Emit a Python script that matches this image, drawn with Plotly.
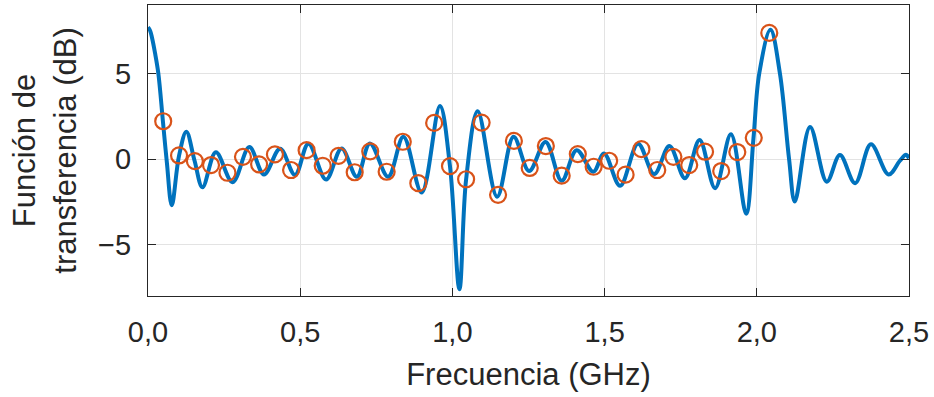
import plotly.graph_objects as go

freq_ghz = [0.000, 0.007, 0.013, 0.023, 0.034, 0.049, 0.062, 0.078, 0.102, 0.126,
            0.153, 0.179, 0.223, 0.278, 0.333, 0.381, 0.434, 0.483, 0.527, 0.585,
            0.636, 0.686, 0.729, 0.789, 0.839, 0.899, 0.959, 0.992, 1.023, 1.045,
            1.083, 1.147, 1.201, 1.252, 1.306, 1.359, 1.408, 1.463, 1.498, 1.551,
            1.610, 1.663, 1.713, 1.764, 1.812, 1.863, 1.915, 1.965, 1.989, 2.008,
            2.045, 2.076, 2.106, 2.125, 2.175, 2.230, 2.273, 2.323, 2.375, 2.433,
            2.470, 2.490, 2.500]
h_db = [7.7, 7.5, 7.1, 6.2, 5.0, 2.2, -0.2, -2.7, 0.2, 1.59,
        -0.1, -1.65, 0.4, -1.35, 0.7, -0.9, 0.6, -0.93, 0.9, -1.2,
        0.62, -1.03, 0.91, -1.03, 1.3, -1.96, 3.1, -0.4, -7.6, -1.2,
        2.8, -2.2, 1.3, -0.7, 1.0, -1.27, 0.52, -0.74, 0.33, -1.56,
        0.9, -0.88, 0.76, -1.12, 1.12, -1.7, 1.45, -3.2, 1.2, 5.0,
        7.55, 5.0, 0.0, -2.48, 1.88, -1.32, 0.23, -1.41, 0.86, -0.9,
        -0.1, 0.25, 0.05]

# Sampled points (orange circles)
sample_ghz = [0.050, 0.102, 0.154, 0.207, 0.261, 0.312, 0.365, 0.417, 0.470, 0.521,
              0.574, 0.626, 0.679, 0.730, 0.784, 0.837, 0.888, 0.940, 0.992, 1.045,
              1.096, 1.150, 1.202, 1.254, 1.307, 1.359, 1.412, 1.464, 1.515, 1.569,
              1.621, 1.673, 1.726, 1.778, 1.830, 1.883, 1.936, 1.990, 2.041]
sample_db = [2.21, 0.21, -0.12, -0.35, -0.80, 0.13, -0.31, 0.27, -0.64, 0.52,
             -0.39, 0.19, -0.77, 0.45, -0.74, 1.01, -1.41, 2.11, -0.41, -1.18,
             2.13, -2.09, 1.06, -0.52, 0.76, -0.97, 0.29, -0.45, -0.10, -0.91,
             0.58, -0.64, 0.13, -0.35, 0.43, -0.70, 0.41, 1.24, 7.37]

x_tickvals = [0, 0.5, 1.0, 1.5, 2.0, 2.5]
x_ticktext = ["0,0", "0,5", "1,0", "1,5", "2,0", "2,5"]
y_tickvals = [-5, 0, 5]
y_ticktext = ["\u22125", "0", "5"]

TXT = "#262626"
FONT = "Liberation Sans, Arial, Helvetica, sans-serif"

fig = go.Figure()
fig.add_trace(go.Scatter(
    x=freq_ghz, y=h_db, mode="lines",
    line=dict(color="#0072BD", width=4, shape="spline", smoothing=1.0),
    showlegend=False, hoverinfo="skip"))
fig.add_trace(go.Scatter(
    x=sample_ghz, y=sample_db, mode="markers",
    marker=dict(symbol="circle-open", size=16, color="#D95319",
                line=dict(color="#D95319", width=2.2)),
    showlegend=False, hoverinfo="skip"))

axis_common = dict(
    showline=True, linecolor=TXT, linewidth=1.3, mirror="ticks",
    ticks="inside", ticklen=8, tickcolor=TXT, tickwidth=1.3,
    showgrid=True, gridcolor="#e3e3e3", gridwidth=1, zeroline=False,
    tickfont=dict(family=FONT, size=29, color=TXT),
)

fig.update_layout(
    width=934, height=397,
    margin=dict(l=148, r=25, t=5, b=101),
    paper_bgcolor="white", plot_bgcolor="white",
    font=dict(family=FONT, color=TXT),
    xaxis=dict(range=[0, 2.5], tickvals=x_tickvals, ticktext=x_ticktext,
               ticklabelstandoff=10,
               title=dict(text="Frecuencia (GHz)", font=dict(family=FONT, size=31, color=TXT),
                          standoff=16),
               **axis_common),
    yaxis=dict(range=[-8, 9], tickvals=y_tickvals, ticktext=y_ticktext,
               ticklabelstandoff=10,
               title=dict(text="Funci\u00f3n de<br>transferencia (dB)",
                          font=dict(family=FONT, size=31, color=TXT), standoff=12),
               **axis_common),
)

fig.write_html("out.html")
